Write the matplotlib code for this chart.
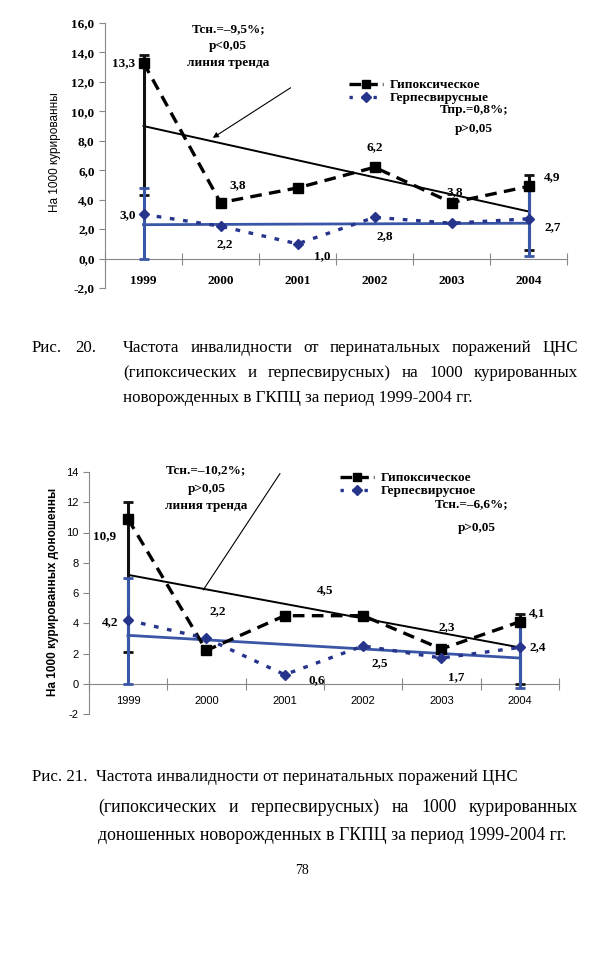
import matplotlib
matplotlib.use('Agg')
import matplotlib.pyplot as plt
from matplotlib.lines import Line2D

years = ['1999', '2000', '2001', '2002', '2003', '2004']

# Рис. 20
hyp1 = [13.3, 3.8, 4.8, 6.2, 3.8, 4.9]
herp1 = [3.0, 2.2, 1.0, 2.8, 2.4, 2.7]
hyp1_lab = ['13,3', '3,8', '', '6,2', '3,8', '4,9']
herp1_lab = ['3,0', '2,2', '1,0', '2,8', '', '2,7']
err_idx = [0, 5]
hyp1_err = [[9.0, 4.3], [0.5, 0.75]]
herp1_err = [[3.0, 2.5], [1.8, 2.2]]
hyp1_trend = [9.0, 3.2]
herp1_trend = [2.3, 2.4]

# Рис. 21
hyp2 = [10.9, 2.2, 4.5, 4.5, 2.3, 4.1]
herp2 = [4.2, 3.0, 0.6, 2.5, 1.7, 2.4]
hyp2_lab = ['10,9', '2,2', '4,5', '', '2,3', '4,1']
herp2_lab = ['4,2', '', '0,6', '2,5', '1,7', '2,4']
hyp2_err = [[8.8, 4.1], [1.1, 0.5]]
herp2_err = [[4.2, 2.65], [2.8, 1.5]]
hyp2_trend = [7.2, 2.4]
herp2_trend = [3.2, 1.7]

W, H = 610, 960
BLUE = '#3a56a6'
DBLUE = '#26348c'
SERIF = 'Liberation Serif'
SANS = 'Liberation Sans'


def fx(x):
    return x / W


def fy(y):
    return 1 - y / H


fig = plt.figure(figsize=(6.1, 9.6), dpi=100)


def draw_chart(ax, hyp, herp, hyp_err, herp_err, hyp_tr, herp_tr, ymin, ymax, sans_ticks):
    x = list(range(len(years)))
    ax.plot([0, 5], hyp_tr, color='black', lw=1.4, zorder=3)
    ax.plot([0, 5], herp_tr, color=BLUE, lw=2.0, zorder=3)
    ax.errorbar(err_idx, [hyp[i] for i in err_idx], yerr=hyp_err, fmt='none',
                ecolor='#111111', elinewidth=2.2, capsize=3.5, capthick=2, zorder=4)
    ax.errorbar(err_idx, [herp[i] for i in err_idx], yerr=herp_err, fmt='none',
                ecolor=BLUE, elinewidth=2.2, capsize=3.5, capthick=2, zorder=5)
    ax.plot(x, hyp, color='black', lw=2.4, dashes=(3.5, 2.2), marker='s',
            markersize=7.5, zorder=6)
    ax.plot(x, herp, color=DBLUE, lw=2.4, dashes=(1.4, 2.6), marker='D',
            markersize=5.5, zorder=6)
    ax.set_xlim(-0.5, 5.5)
    ax.set_ylim(ymin, ymax)
    for s in ['top', 'right']:
        ax.spines[s].set_visible(False)
    ax.spines['bottom'].set_position(('data', 0))
    ax.spines['bottom'].set_color('#888888')
    ax.spines['left'].set_color('#888888')
    ax.set_xticks([i - 0.5 for i in range(7)])
    ax.set_xticklabels([])
    ax.set_xticks(x, minor=True)
    ax.tick_params(axis='x', which='major', direction='inout', length=8, color='#888888')
    ax.tick_params(axis='y', direction='out', length=4, color='#888888')
    ax.patch.set_alpha(0)
    yt = list(range(ymin, ymax + 1, 2))
    ax.set_yticks(yt)
    if sans_ticks:
        ax.set_yticklabels([str(v) for v in yt], family=SANS, fontsize=8)
        ax.set_xticklabels(years, minor=True, family=SANS, fontsize=8)
        ax.tick_params(axis='x', which='minor', length=0, pad=9)
    else:
        ax.set_yticklabels([f'{v:.1f}'.replace('.', ',') for v in yt],
                           family=SERIF, fontsize=9.5, fontweight='bold')
        ax.set_xticklabels(years, minor=True, family=SERIF, fontsize=9.5,
                           fontweight='bold')
        ax.tick_params(axis='x', which='minor', length=0, pad=12)


def labels(ax, vals, labs, offs):
    for i, (v, t) in enumerate(zip(vals, labs)):
        if t:
            ax.annotate(t, (i, v), xytext=(offs[i][0] * 0.72, offs[i][1] * 0.72),
                        textcoords='offset points', ha='center', va='center',
                        family=SERIF, fontweight='bold', fontsize=9.5, zorder=7)


def legend(ax, x, y, names):
    h = [Line2D([], [], color='black', lw=2.4, dashes=(3.5, 1.5), marker='s', markersize=6),
         Line2D([], [], color=DBLUE, lw=2.4, dashes=(1.0, 2.6), marker='D', markersize=5)]
    ax.legend(h, names, loc='upper left', bbox_to_anchor=(fx(x), fy(y)),
              bbox_transform=fig.transFigure, frameon=False, borderpad=0,
              borderaxespad=0, handlelength=2.6, handletextpad=0.5, labelspacing=0.05,
              prop={'family': SERIF, 'weight': 'bold', 'size': 9.5})


def btext(ax, x, y, s):
    ax.text(x, y, s, ha='center', va='center', family=SERIF, fontweight='bold',
            fontsize=9.5, clip_on=False, zorder=7)


# ---- chart 1
ax1 = fig.add_axes([fx(105), fy(288), fx(567) - fx(105), fy(23) - fy(288)])
draw_chart(ax1, hyp1, herp1, hyp1_err, herp1_err, hyp1_trend, herp1_trend, -2, 16, False)
labels(ax1, hyp1, hyp1_lab, [(-20, 0), (17, 17), (0, 0), (0, 20), (3, 10), (24, 9)])
labels(ax1, herp1, herp1_lab, [(-16, -1), (4, -18), (25, -12), (10, -19), (0, 0), (24, -8)])
btext(ax1, 1.1, 15.6, 'Тсн.=–9,5%;')
btext(ax1, 1.1, 14.45, 'p<0,05')
btext(ax1, 1.1, 13.3, 'линия тренда')
btext(ax1, 4.29, 10.1, 'Тпр.=0,8%;')
btext(ax1, 4.29, 8.8, 'p>0,05')
ax1.annotate('', xy=(0.9, 8.2), xytext=(1.91, 11.6),
             arrowprops=dict(arrowstyle='-|>', lw=0.8, color='black',
                             mutation_scale=8, shrinkA=0, shrinkB=0))
legend(ax1, 349, 79, ['Гипоксическое', 'Герпесвирусные'])
fig.text(fx(55), fy(152), 'На 1000 курированны', rotation=90, ha='center', va='center',
         family=SANS, fontsize=8.5)

# ---- chart 2
ax2 = fig.add_axes([fx(88.8), fy(714), fx(559) - fx(88.8), fy(472) - fy(714)])
draw_chart(ax2, hyp2, herp2, hyp2_err, herp2_err, hyp2_trend, herp2_trend, -2, 14, True)
labels(ax2, hyp2, hyp2_lab, [(-23, -17), (11, 39), (40, 26), (0, 0), (5, 22), (17, 9)])
labels(ax2, herp2, herp2_lab, [(-18, -2), (0, 0), (32, -5), (17, -17), (15, -19), (18, 0)])
btext(ax2, 1.0, 14.1, 'Тсн.=–10,2%;')
btext(ax2, 1.0, 12.9, 'p>0,05')
btext(ax2, 1.0, 11.75, 'линия тренда')
btext(ax2, 4.39, 11.9, 'Тсн.=–6,6%;')
btext(ax2, 4.45, 10.3, 'p>0,05')
ax2.annotate('', xy=(0.96, 6.2), xytext=(1.94, 13.9),
             arrowprops=dict(arrowstyle='-', lw=0.8, color='black', shrinkA=0, shrinkB=0),
             annotation_clip=False)
legend(ax2, 340, 472, ['Гипоксическое', 'Герпесвирусное'])
fig.text(fx(53), fy(592), 'На 1000 курированных доношенны', rotation=90, ha='center',
         va='center', family=SANS, fontsize=8.5, fontweight='bold')

# ---- captions
CAP = 12.2
renderer = fig.canvas.get_renderer()


def justify(words, x0, x1, y, size=CAP):
    ts = [fig.text(fx(x0), fy(y), w, family=SERIF, fontsize=size, va='center')
          for w in words]
    widths = [t.get_window_extent(renderer).width for t in ts]
    gap = (x1 - x0 - sum(widths)) / (len(words) - 1)
    pos = x0
    for t, wd in zip(ts, widths):
        t.set_x(fx(pos))
        pos += wd + gap


def left(s, x0, y, size=CAP):
    fig.text(fx(x0), fy(y), s, family=SERIF, fontsize=size, va='center')


left('Рис.', 32, 348)
left('20.', 75, 348)
justify('Частота инвалидности от перинатальных поражений ЦНС'.split(), 123, 578, 348)
justify('(гипоксических и герпесвирусных) на 1000 курированных'.split(), 123, 578, 373)
left('новорожденных в ГКПЦ за период 1999-2004 гг.', 123, 398)

left('Рис. 21.  Частота инвалидности от перинатальных поражений ЦНС', 32, 777)
justify('(гипоксических и герпесвирусных) на 1000 курированных'.split(), 98, 578, 807, 12.8)
left('доношенных новорожденных в ГКПЦ за период 1999-2004 гг.', 98, 836, 12.8)
fig.text(fx(302), fy(870), '78', family=SERIF, fontsize=10, ha='center', va='center')

fig.savefig('out.png', dpi=100)
